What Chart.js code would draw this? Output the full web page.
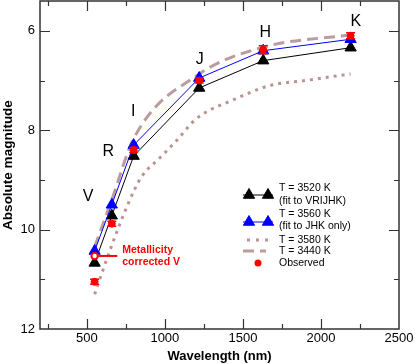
<!DOCTYPE html>
<html>
<head>
<meta charset="utf-8">
<script src="https://cdn.jsdelivr.net/npm/chart.js@4/dist/chart.umd.min.js"></script>
<style>
html, body { margin: 0; padding: 0; background: #fff; }
</style>
</head>
<body>
<canvas id="c" width="415" height="364"></canvas>
<script>
// photometric bands and their wavelengths (nm)
const bands = ['V', 'R', 'I', 'J', 'H', 'K'];
const bandWave = [550, 660, 800, 1220, 1630, 2190];

// model fits, absolute magnitude per band
const fit3520 = [10.67, 9.72, 8.52, 7.15, 6.6, 6.34];
const fit3560 = [10.43, 9.5, 8.3, 6.95, 6.4, 6.17];
const model3440 = [10.35, 9.4, 8.17, 6.87, 6.33, 6.08];

// T = 3580 K model curve
const model3580Wave = [550, 650, 770, 850, 970, 1080, 1190, 1290, 1400, 1510, 1620, 1720, 1900, 2070, 2190];
const model3580 = [11.3, 10.4, 9.44, 8.94, 8.55, 8.19, 7.8, 7.59, 7.44, 7.29, 7.15, 7.07, 7.0, 6.92, 6.87];

// observed magnitudes and errors
const observed = [11.05, 9.88, 8.4, 7.0, 6.38, 6.1];
const observedErr = [0.05, 0.05, 0.05, 0.05, 0.08, 0.06];
const vCorrected = 10.53;

const xTicks = [500, 1000, 1500, 2000, 2500];
const yTicks = [6, 8, 10, 12];

const font = 'Liberation Sans, Arial, Helvetica, sans-serif';
const dotColor = '#bc9292';
const dashColor = '#bb9c9c';

function pts(xs, ys) {
    return xs.map((x, i) => ({ x: x, y: ys[i] }));
}

// band letters sit above the points, a bit to the side
const bandLabelPos = [[508, 9.34], [637, 8.44], [798, 7.63], [1224, 6.58], [1643, 6.04], [2223, 5.82]];

const framePlugin = {
    id: 'frame',
    afterDraw(chart) {
        const ctx = chart.ctx;
        const ca = chart.chartArea;
        const xs = chart.scales.x, ys = chart.scales.y;
        ctx.save();
        ctx.strokeStyle = '#333';
        ctx.lineWidth = 1.5;
        ctx.strokeRect(ca.left, ca.top, ca.right - ca.left, ca.bottom - ca.top);
        ctx.lineWidth = 1.2;
        ctx.beginPath();
        for (let v = 250; v < 2500; v += 250) {
            const len = v % 500 === 0 ? 10 : 5;
            const px = Math.round(xs.getPixelForValue(v)) + 0.5;
            ctx.moveTo(px, ca.bottom); ctx.lineTo(px, ca.bottom - len);
            ctx.moveTo(px, ca.top); ctx.lineTo(px, ca.top + len);
        }
        for (let v = 6; v < 12; v += 1) {
            const len = v % 2 === 0 ? 10 : 5;
            const py = Math.round(ys.getPixelForValue(v)) + 0.5;
            ctx.moveTo(ca.left, py); ctx.lineTo(ca.left + len, py);
            ctx.moveTo(ca.right, py); ctx.lineTo(ca.right - len, py);
        }
        ctx.stroke();
        ctx.restore();
    }
};

const notesPlugin = {
    id: 'notes',
    afterDatasetsDraw(chart) {
        const ctx = chart.ctx;
        const xs = chart.scales.x, ys = chart.scales.y;
        ctx.save();

        // error bars on observed points
        ctx.strokeStyle = 'red';
        ctx.lineWidth = 1.5;
        observed.forEach((m, i) => {
            const px = xs.getPixelForValue(bandWave[i]);
            const y1 = ys.getPixelForValue(m - observedErr[i]);
            const y2 = ys.getPixelForValue(m + observedErr[i]);
            ctx.beginPath();
            ctx.moveTo(px, y1); ctx.lineTo(px, y2);
            ctx.moveTo(px - 4.5, y1); ctx.lineTo(px + 4.5, y1);
            ctx.moveTo(px - 4.5, y2); ctx.lineTo(px + 4.5, y2);
            ctx.stroke();
        });

        // pointer for metallicity corrected V
        const cx = xs.getPixelForValue(bandWave[0]);
        const cy = ys.getPixelForValue(vCorrected);
        const ex = xs.getPixelForValue(695);
        ctx.lineWidth = 2;
        ctx.beginPath();
        ctx.moveTo(cx + 4, cy); ctx.lineTo(ex, cy);
        ctx.stroke();
        ctx.fillStyle = 'red';
        ctx.font = 'bold 10.5px ' + font;
        ctx.textAlign = 'left';
        ctx.textBaseline = 'middle';
        ctx.fillText('Metallicity', ex + 5, cy - 6);
        ctx.fillText('corrected V', ex + 5, cy + 6);

        // band letters
        ctx.fillStyle = '#000';
        ctx.font = '16px ' + font;
        ctx.textAlign = 'center';
        bands.forEach((b, i) => {
            ctx.fillText(b, xs.getPixelForValue(bandLabelPos[i][0]), ys.getPixelForValue(bandLabelPos[i][1]));
        });
        ctx.restore();
    }
};

const legendPlugin = {
    id: 'legendBox',
    afterDraw(chart) {
        const ctx = chart.ctx;
        const tri = (x, y) => {
            Chart.helpers.drawPoint(ctx, { pointStyle: 'triangle', radius: 6.5, borderWidth: 1 }, x, y);
        };
        ctx.save();
        ctx.font = '10.5px ' + font;
        ctx.textAlign = 'left';
        ctx.textBaseline = 'middle';

        // T = 3520 K
        ctx.strokeStyle = '#000';
        ctx.fillStyle = '#000';
        ctx.lineWidth = 1;
        ctx.beginPath(); ctx.moveTo(243, 195); ctx.lineTo(273, 195); ctx.stroke();
        tri(249, 195); tri(268, 195);
        ctx.fillStyle = '#000';
        ctx.fillText('T = 3520 K', 279, 188);
        ctx.fillText('(fit to VRIJHK)', 279, 201);

        // T = 3560 K
        ctx.strokeStyle = '#00f';
        ctx.fillStyle = '#00f';
        ctx.beginPath(); ctx.moveTo(243, 222); ctx.lineTo(273, 222); ctx.stroke();
        tri(249, 222); tri(268, 222);
        ctx.fillStyle = '#000';
        ctx.fillText('T = 3560 K', 279, 214);
        ctx.fillText('(fit to JHK only)', 279, 226);

        // T = 3580 K
        ctx.strokeStyle = dotColor;
        ctx.lineWidth = 3;
        ctx.setLineDash([3, 6]);
        ctx.beginPath(); ctx.moveTo(247, 240); ctx.lineTo(269, 240); ctx.stroke();
        ctx.fillText('T = 3580 K', 279, 240);

        // T = 3440 K
        ctx.strokeStyle = dashColor;
        ctx.setLineDash([11, 6]);
        ctx.beginPath(); ctx.moveTo(243, 251); ctx.lineTo(266, 251); ctx.stroke();
        ctx.setLineDash([]);
        ctx.fillText('T = 3440 K', 279, 251);

        // observed
        ctx.fillStyle = 'red';
        ctx.beginPath(); ctx.arc(258, 263, 3.5, 0, Math.PI * 2); ctx.fill();
        ctx.fillStyle = '#000';
        ctx.fillText('Observed', 279, 263);
        ctx.restore();
    }
};

new Chart(document.getElementById('c'), {
    type: 'line',
    data: {
        datasets: [
            {
                label: 'Observed',
                data: pts(bandWave, observed),
                showLine: false,
                pointStyle: 'circle',
                pointRadius: 3.5,
                pointBackgroundColor: 'red',
                pointBorderColor: 'red',
                order: 0
            },
            {
                label: 'Metallicity corrected V',
                data: [{ x: bandWave[0], y: vCorrected }],
                showLine: false,
                pointStyle: 'circle',
                pointRadius: 3.2,
                pointBorderWidth: 2,
                pointBackgroundColor: '#fff',
                pointBorderColor: 'red',
                order: 0
            },
            {
                label: 'T = 3560 K',
                data: pts(bandWave, fit3560),
                borderColor: '#00f',
                borderWidth: 1,
                pointStyle: 'triangle',
                pointRadius: 6.5,
                pointBorderWidth: 1,
                pointBackgroundColor: '#00f',
                pointBorderColor: '#00f',
                order: 1
            },
            {
                label: 'T = 3520 K',
                data: pts(bandWave, fit3520),
                borderColor: '#000',
                borderWidth: 1,
                pointStyle: 'triangle',
                pointRadius: 6.5,
                pointBorderWidth: 1,
                pointBackgroundColor: '#000',
                pointBorderColor: '#000',
                order: 2
            },
            {
                label: 'T = 3440 K',
                data: pts(bandWave, model3440),
                borderColor: dashColor,
                borderWidth: 3,
                borderDash: [11, 6],
                pointRadius: 0,
                cubicInterpolationMode: 'monotone',
                order: 3
            },
            {
                label: 'T = 3580 K',
                data: pts(model3580Wave, model3580),
                borderColor: dotColor,
                borderWidth: 3,
                borderDash: [3, 5],
                pointRadius: 0,
                cubicInterpolationMode: 'monotone',
                order: 4
            }
        ]
    },
    options: {
        responsive: false,
        animation: false,
        devicePixelRatio: 1,
        layout: { autoPadding: false, padding: { top: 1, right: 16, left: 0, bottom: 0 } },
        plugins: { legend: { display: false }, tooltip: { enabled: false } },
        scales: {
            x: {
                type: 'linear',
                min: 200,
                max: 2500,
                grid: { display: false, drawTicks: false },
                border: { display: false },
                ticks: {
                    padding: 2,
                    color: '#000',
                    font: { family: font, size: 13 },
                    callback: (v) => String(v)
                },
                afterBuildTicks: (s) => { s.ticks = xTicks.map(v => ({ value: v })); },
                afterFit: (s) => { s.height = 35; s.paddingLeft = 0; s.paddingRight = 0; },
                title: {
                    display: true,
                    text: 'Wavelength (nm)',
                    color: '#000',
                    padding: 0,
                    font: { family: font, size: 13, weight: 'bold' }
                }
            },
            y: {
                type: 'linear',
                reverse: true,
                min: 5.4,
                max: 12,
                grid: { display: false, drawTicks: false },
                border: { display: false },
                ticks: {
                    padding: 5,
                    color: '#000',
                    font: { family: font, size: 13 },
                    callback: (v) => String(v)
                },
                afterBuildTicks: (s) => { s.ticks = yTicks.map(v => ({ value: v })); },
                afterFit: (s) => { s.width = 40; s.paddingTop = 0; s.paddingBottom = 0; },
                title: {
                    display: true,
                    text: 'Absolute magnitude',
                    color: '#000',
                    padding: 0,
                    font: { family: font, size: 13.5, weight: 'bold' }
                }
            }
        }
    },
    plugins: [framePlugin, notesPlugin, legendPlugin]
});
</script>
</body>
</html>
